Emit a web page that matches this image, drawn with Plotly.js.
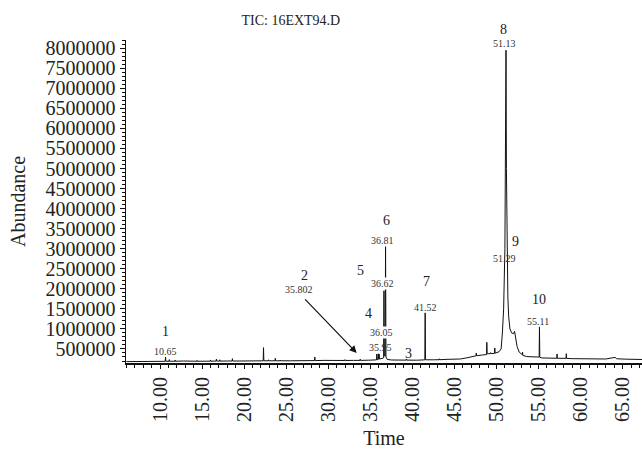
<!DOCTYPE html>
<html>
<head>
<meta charset="utf-8">
<script src="https://cdn.plot.ly/plotly-3.0.1.min.js"></script>
<style>html,body{margin:0;padding:0;background:#fff;}#chart{width:642px;height:449px;}</style>
</head>
<body>
<div id="chart"></div>
<script>
// Retention time (min) and abundance
const times = [6.0,7.0,8.0,9.0,10.0,10.61,10.65,10.69,11.07,11.1,11.13,11.77,11.8,11.83,12.8,13.5,14.37,14.4,14.43,15.5,15.97,16.0,16.03,16.67,16.7,16.73,17.07,17.1,17.13,18.0,18.57,18.6,18.63,19.5,20.5,21.5,22.26,22.3,22.34,22.87,22.9,22.93,23.67,23.7,23.73,24.27,24.3,24.33,25.5,26.5,27.5,28.36,28.4,28.44,29.5,30.5,31.5,31.97,32.0,32.03,33.0,33.77,33.8,33.83,34.8,35.6,35.73,35.77,35.81,35.91,35.95,35.99,36.02,36.05,36.08,36.5,36.58,36.62,36.66,36.76,36.81,36.86,37.0,37.5,38.5,39.27,39.3,39.33,40.5,41.2,41.48,41.52,41.56,42.5,43.17,43.2,43.23,44.0,45.0,45.7,46.5,47.2,47.57,47.6,47.63,48.3,48.81,48.85,48.89,49.27,49.3,49.33,49.76,49.8,49.84,50.3,50.55,50.7,50.85,51.0,51.08,51.13,51.18,51.24,51.29,51.35,51.45,51.6,51.8,52.0,52.15,52.3,52.45,52.7,53.0,53.07,53.1,53.13,53.6,54.6,55.07,55.11,55.15,55.4,56.5,57.17,57.2,57.23,58.27,58.3,58.33,59.0,60.0,61.5,63.0,64.1,64.3,65.5,67.3];
const abundance = [185000,188000,190000,188000,190000,192000,300000,194000,194000,235000,194000,194000,225000,194000,200000,192000,194000,215000,194000,195000,196000,225000,196000,198000,250000,198000,198000,230000,198000,200000,200000,258000,200000,200000,205000,200000,204000,533000,205000,205000,230000,205000,205000,267000,205000,205000,225000,205000,205000,210000,208000,210000,300000,210000,215000,210000,213000,213000,235000,213000,215000,215000,245000,215000,220000,225000,228000,375000,235000,238000,380000,245000,245000,370000,250000,270000,280000,1950000,330000,320000,3050000,300000,240000,225000,220000,222000,250000,222000,220000,225000,228000,1400000,230000,230000,232000,255000,232000,240000,245000,250000,280000,316000,330000,400000,330000,350000,360000,665000,380000,385000,408000,385000,390000,525000,395000,430000,500000,900000,1500000,3000000,7000000,7950000,5000000,2700000,2600000,1800000,1300000,1000000,900000,880000,940000,750000,560000,420000,370000,360000,420000,340000,310000,300000,298000,1050000,290000,276000,265000,268000,376000,268000,266000,383000,265000,258000,255000,250000,250000,290000,255000,245000,238000];

// Peak labels: number, retention-time text, and where each sits
const peakNums = ["1","2","3","4","5","6","7","9","10"];
const numX = [10.67,27.15,39.52,34.84,33.86,36.95,41.7,52.2,55.09];
const numY = [939000,2327000,384000,1373000,2451000,3705000,2177000,3181000,1729000];
const rtTexts = ["10.65","35.802","35.95","36.05","36.62","36.81","41.52","51.13","51.29","55.11"];
const rtX = [10.59,26.52,36.24,36.27,36.47,36.47,41.54,50.93,50.93,54.98];
const rtY = [433000,1978000,541000,899000,2145000,3206000,1537000,8124000,2768000,1188000];
const rtBg = [false,false,false,true,true,false,false,false,false,false];
// peak 8 number sits above the plotting area
const topNum = "8", topNumX = 50.81;

const FONT = "Liberation Serif, Times New Roman, serif";

const annotations = [];
peakNums.forEach((t,i)=>annotations.push({x:numX[i],y:numY[i],xref:'x',yref:'y',text:t,showarrow:false,xanchor:'center',yanchor:'middle',font:{family:FONT,size:14,color:'#222'}}));
annotations.push({x:topNumX,y:1.034,xref:'x',yref:'paper',text:topNum,showarrow:false,xanchor:'center',yanchor:'middle',font:{family:FONT,size:14,color:'#222'}});
rtTexts.forEach((t,i)=>annotations.push({x:rtX[i],y:rtY[i],xref:'x',yref:'y',text:t,showarrow:false,xanchor:'center',yanchor:'middle',
  bgcolor: rtBg[i] ? '#ffffff' : 'rgba(0,0,0,0)', borderpad:0,
  font:{family:FONT,size:10,color:'#333'}}));
// arrow for peak 2
annotations.push({x:33.38,y:401000,xref:'x',yref:'y',ax:-53,ay:-55,text:'',showarrow:true,arrowhead:2,arrowsize:1.2,arrowwidth:1.2,arrowcolor:'#111'});

const trace = {x:times,y:abundance,type:'scatter',mode:'lines',line:{color:'#111',width:1},hoverinfo:'skip'};

const layout = {
  width:642,height:449,
  margin:{l:126,r:0,t:40,b:86},
  paper_bgcolor:'#fff',plot_bgcolor:'#fff',
  showlegend:false,
  font:{family:FONT,color:'#222'},
  title:{text:'TIC: 16EXT94.D',font:{family:FONT,size:14,color:'#222'},x:0.453,xanchor:'center',y:0.955,yanchor:'middle'},
  xaxis:{range:[5.95,67.3],tick0:0,dtick:5,tickformat:'.2f',tickangle:-90,
    showgrid:false,zeroline:false,showline:true,linecolor:'#111',linewidth:2,
    ticks:'outside',ticklen:4,tickcolor:'#111',tickwidth:1,
    minor:{dtick:1,ticks:'outside',ticklen:3,tickcolor:'#111',tickwidth:1},
    tickfont:{family:FONT,size:20,color:'#222'},
    title:{text:'Time',font:{family:FONT,size:20,color:'#222'},standoff:10}},
  yaxis:{range:[150000,8205000],tick0:0,dtick:500000,tickformat:'d',
    showgrid:false,zeroline:false,showline:true,linecolor:'#111',linewidth:1.5,
    ticks:'outside',ticklen:5,tickcolor:'#111',tickwidth:1,
    minor:{dtick:100000,ticks:'outside',ticklen:3,tickcolor:'#111',tickwidth:1},
    tickfont:{family:FONT,size:20,color:'#222'},
    title:{text:'Abundance',font:{family:FONT,size:20,color:'#222'},standoff:14}},
  annotations:annotations
};

Plotly.newPlot('chart',[trace],layout,{displayModeBar:false,staticPlot:true});
</script>
</body>
</html>
